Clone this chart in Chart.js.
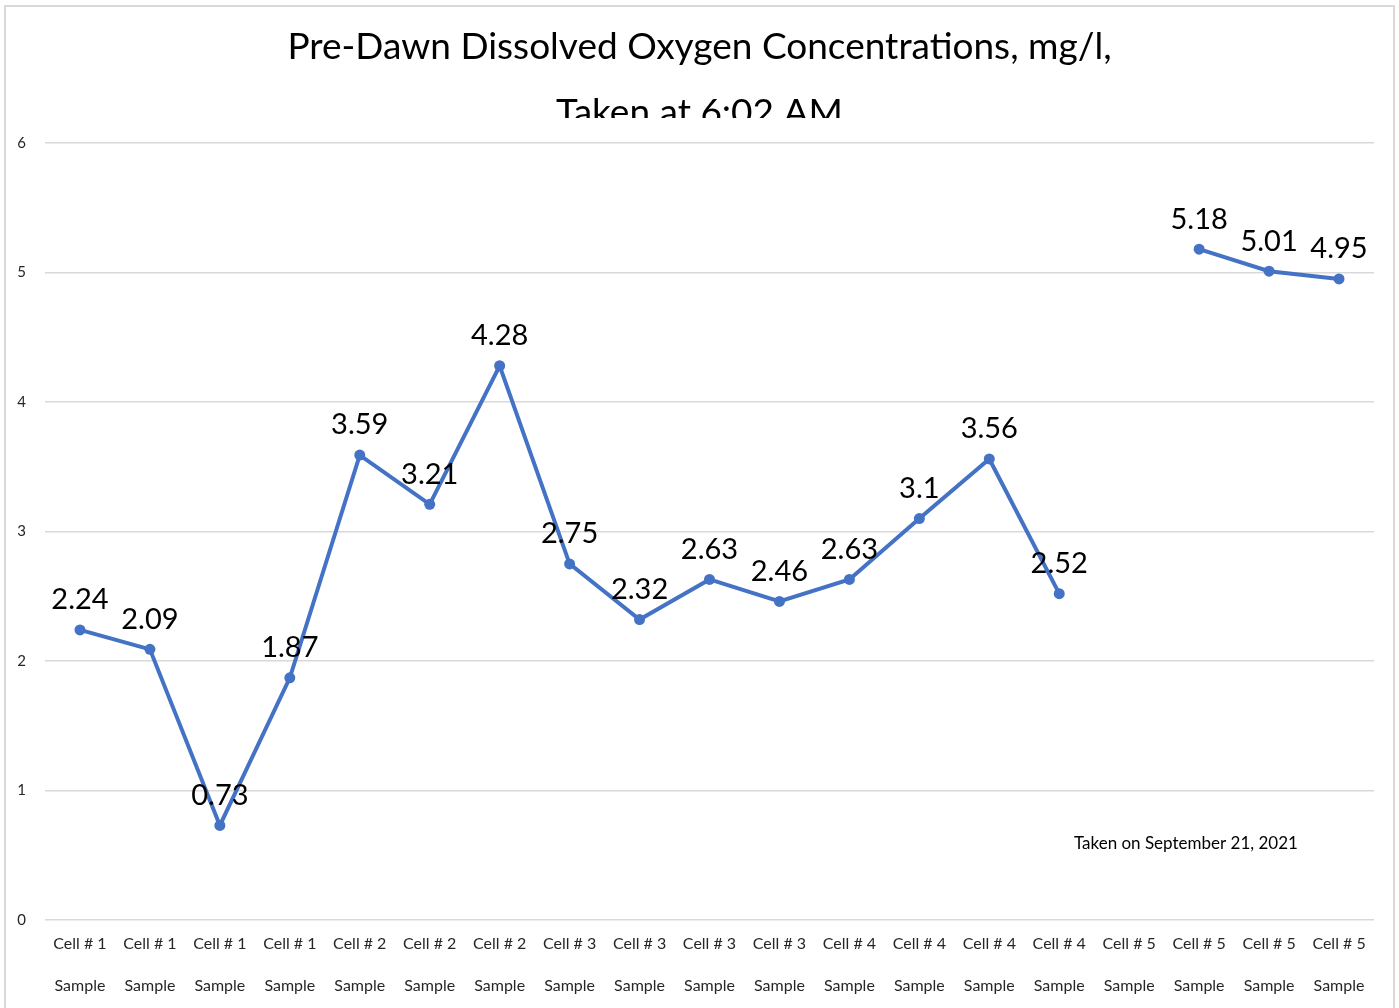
<!DOCTYPE html>
<html>
<head>
<meta charset="utf-8">
<title>Pre-Dawn Dissolved Oxygen Concentrations</title>
<script src="https://cdn.jsdelivr.net/npm/chart.js@4.4.0/dist/chart.umd.min.js"></script>
<style>
    html, body { margin: 0; padding: 0; background: #fff; }
    #frame {
        position: absolute; left: 4px; top: 5px; width: 1391px; height: 1010px;
        border: 2px solid #d9d9d9; box-sizing: border-box;
    }
    #wrap { position: absolute; left: 0; top: 0; width: 1399px; height: 1008px; }
</style>
</head>
<body>
<div id="frame"></div>
<div id="wrap"><canvas id="oxygenChart"></canvas></div>
<script>
// Data
const cellNames = [
    'Cell # 1', 'Cell # 1', 'Cell # 1', 'Cell # 1',
    'Cell # 2', 'Cell # 2', 'Cell # 2',
    'Cell # 3', 'Cell # 3', 'Cell # 3', 'Cell # 3',
    'Cell # 4', 'Cell # 4', 'Cell # 4', 'Cell # 4',
    'Cell # 5', 'Cell # 5', 'Cell # 5', 'Cell # 5'
];
const sampleWord = 'Sample';
const oxygenValues = [2.24, 2.09, 0.73, 1.87, 3.59, 3.21, 4.28, 2.75, 2.32, 2.63,
                      2.46, 2.63, 3.1, 3.56, 2.52, null, 5.18, 5.01, 4.95];
const yTicks = [0, 1, 2, 3, 4, 5, 6];
const titleLines = ['Pre-Dawn Dissolved Oxygen Concentrations, mg/l,', 'Taken at 6:02 AM'];
const noteText = 'Taken on September 21, 2021';

const theme = {
    line: '#4472c4',
    grid: '#d9d9d9',
    tick: '#262626',
    text: '#000000',
    font: "Lato, 'Open Sans', sans-serif"
};

// Title: second line is cut off by the plot area, as in the original
const clippedTitle = {
    id: 'clippedTitle',
    afterDraw(chart) {
        const ctx = chart.ctx;
        ctx.save();
        ctx.beginPath();
        ctx.rect(0, 0, chart.width, 118);
        ctx.clip();
        ctx.fillStyle = theme.text;
        ctx.font = '37px ' + theme.font;
        ctx.textAlign = 'center';
        ctx.textBaseline = 'middle';
        const cx = chart.width / 2;
        ctx.fillText(titleLines[0], cx, 47);
        ctx.fillText(titleLines[1], cx, 113);
        ctx.restore();
    }
};

// Value labels above each point plus the date note
const pointLabels = {
    id: 'pointLabels',
    afterDatasetsDraw(chart) {
        const ctx = chart.ctx;
        const meta = chart.getDatasetMeta(0);
        const data = chart.data.datasets[0].data;
        ctx.save();
        ctx.fillStyle = theme.text;
        ctx.font = '29px ' + theme.font;
        ctx.textAlign = 'center';
        ctx.textBaseline = 'middle';
        meta.data.forEach((pt, i) => {
            if (data[i] === null) return;
            ctx.fillText(String(data[i]), pt.x, pt.y - 30);
        });

        const area = chart.chartArea;
        ctx.font = '17px ' + theme.font;
        ctx.fillText(noteText, area.left + (area.right - area.left) * 0.8585, area.top + (area.bottom - area.top) * 0.901);
        ctx.restore();
    }
};

new Chart(document.getElementById('oxygenChart'), {
    type: 'line',
    data: {
        labels: cellNames.map(name => [name, sampleWord]),
        datasets: [{
            label: 'Dissolved Oxygen (mg/l)',
            data: oxygenValues,
            borderColor: theme.line,
            backgroundColor: theme.line,
            borderWidth: 4,
            pointRadius: 5.5,
            pointBackgroundColor: theme.line,
            pointBorderColor: theme.line,
            pointBorderWidth: 0,
            tension: 0,
            spanGaps: false
        }]
    },
    options: {
        responsive: true,
        maintainAspectRatio: false,
        animation: false,
        layout: { padding: { top: 143, right: 25, left: 0, bottom: 0 } },
        plugins: {
            legend: { display: false },
            title: { display: false },
            tooltip: { enabled: false }
        },
        scales: {
            x: {
                offset: true,
                grid: { display: false },
                border: { display: false },
                ticks: {
                    autoSkip: false,
                    maxRotation: 0,
                    padding: -5,
                    color: theme.tick,
                    font: { family: theme.font, size: 16, lineHeight: '42px' }
                },
                afterFit(scale) { scale.height = 88; }
            },
            y: {
                min: yTicks[0],
                max: yTicks[yTicks.length - 1],
                afterBuildTicks(scale) { scale.ticks = yTicks.map(v => ({ value: v })); },
                border: { display: false },
                grid: { color: theme.grid, lineWidth: 1.5, drawTicks: false },
                ticks: {
                    padding: 19,
                    color: theme.tick,
                    font: { family: theme.font, size: 15 }
                },
                afterFit(scale) { scale.width = 45; }
            }
        }
    },
    plugins: [clippedTitle, pointLabels]
});
</script>
</body>
</html>
